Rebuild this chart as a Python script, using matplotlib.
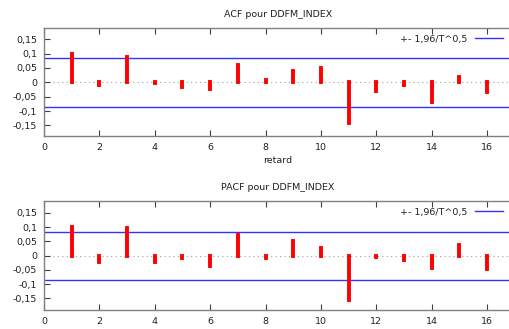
import matplotlib
matplotlib.use("Agg")
import matplotlib.pyplot as plt
from matplotlib.ticker import FuncFormatter

lags = list(range(1, 17))
acf = [0.099, -0.008, 0.089, -0.003, -0.015, -0.025, 0.061, 0.007,
       0.041, 0.049, -0.143, -0.031, -0.009, -0.068, 0.018, -0.034]
pacf = [0.100, -0.022, 0.096, -0.024, -0.010, -0.035, 0.071, -0.007,
        0.052, 0.028, -0.157, -0.005, -0.014, -0.042, 0.039, -0.048]
band = 0.0845
titles = ["ACF pour DDFM_INDEX", "PACF pour DDFM_INDEX"]
legend_label = "+- 1,96/T^0,5"
xticks = [0, 2, 4, 6, 8, 10, 12, 14, 16]
yticks = [-0.15, -0.1, -0.05, 0, 0.05, 0.1, 0.15]

plt.rcParams['font.family'] = ['DejaVu Sans']
fig = plt.figure(figsize=(5.10, 3.29), dpi=100)

W, H = 510, 329
def pos(l, r, t, b):
    return [l / W, 1 - b / H, (r - l) / W, (b - t) / H]

axes = [fig.add_axes(pos(44, 512, 28, 136)), fig.add_axes(pos(44, 512, 201, 310))]
data = [acf, pacf]
ylims = [(-0.187, 0.189), (-0.191, 0.192)]

fmt = FuncFormatter(lambda v, p: ("%g" % round(v, 3)).replace(".", ","))
gray = "#808080"
fs = 6.8

for i, ax in enumerate(axes):
    ax.axhline(0, color="#a0a0a0", lw=0.8, ls=(0, (1, 3)), zorder=1)
    ax.vlines(lags, 0, data[i], colors="#ff0000", lw=2.8, capstyle="projecting", zorder=3)
    ax.axhline(band, color="#3333ff", lw=1.0, label=legend_label, zorder=2)
    ax.axhline(-band, color="#3333ff", lw=1.0, zorder=2)
    ax.set_xlim(0, 16.9)
    ax.set_ylim(*ylims[i])
    ax.set_xticks(xticks)
    ax.set_yticks(yticks)
    ax.yaxis.set_major_formatter(fmt)
    ax.tick_params(direction="in", length=4, width=0.8, color="#404040",
                   labelsize=fs, labelcolor="#202020", pad=5,
                   top=True, right=False)
    for s in ax.spines.values():
        s.set_color(gray)
        s.set_linewidth(1.0)
    ax.spines["right"].set_visible(False)
    ax.set_title(titles[i], fontsize=fs, color="#202020", pad=8)
    leg = ax.legend(loc="upper right", bbox_to_anchor=(0.995, 1.0), frameon=False,
                    markerfirst=False, fontsize=fs, handlelength=3.0,
                    handletextpad=0.8, borderaxespad=0.3)
    for t in leg.get_texts():
        t.set_color("#202020")

axes[0].set_xlabel("retard", fontsize=fs, color="#202020", labelpad=3)

fig.savefig("out.png", dpi=100)
